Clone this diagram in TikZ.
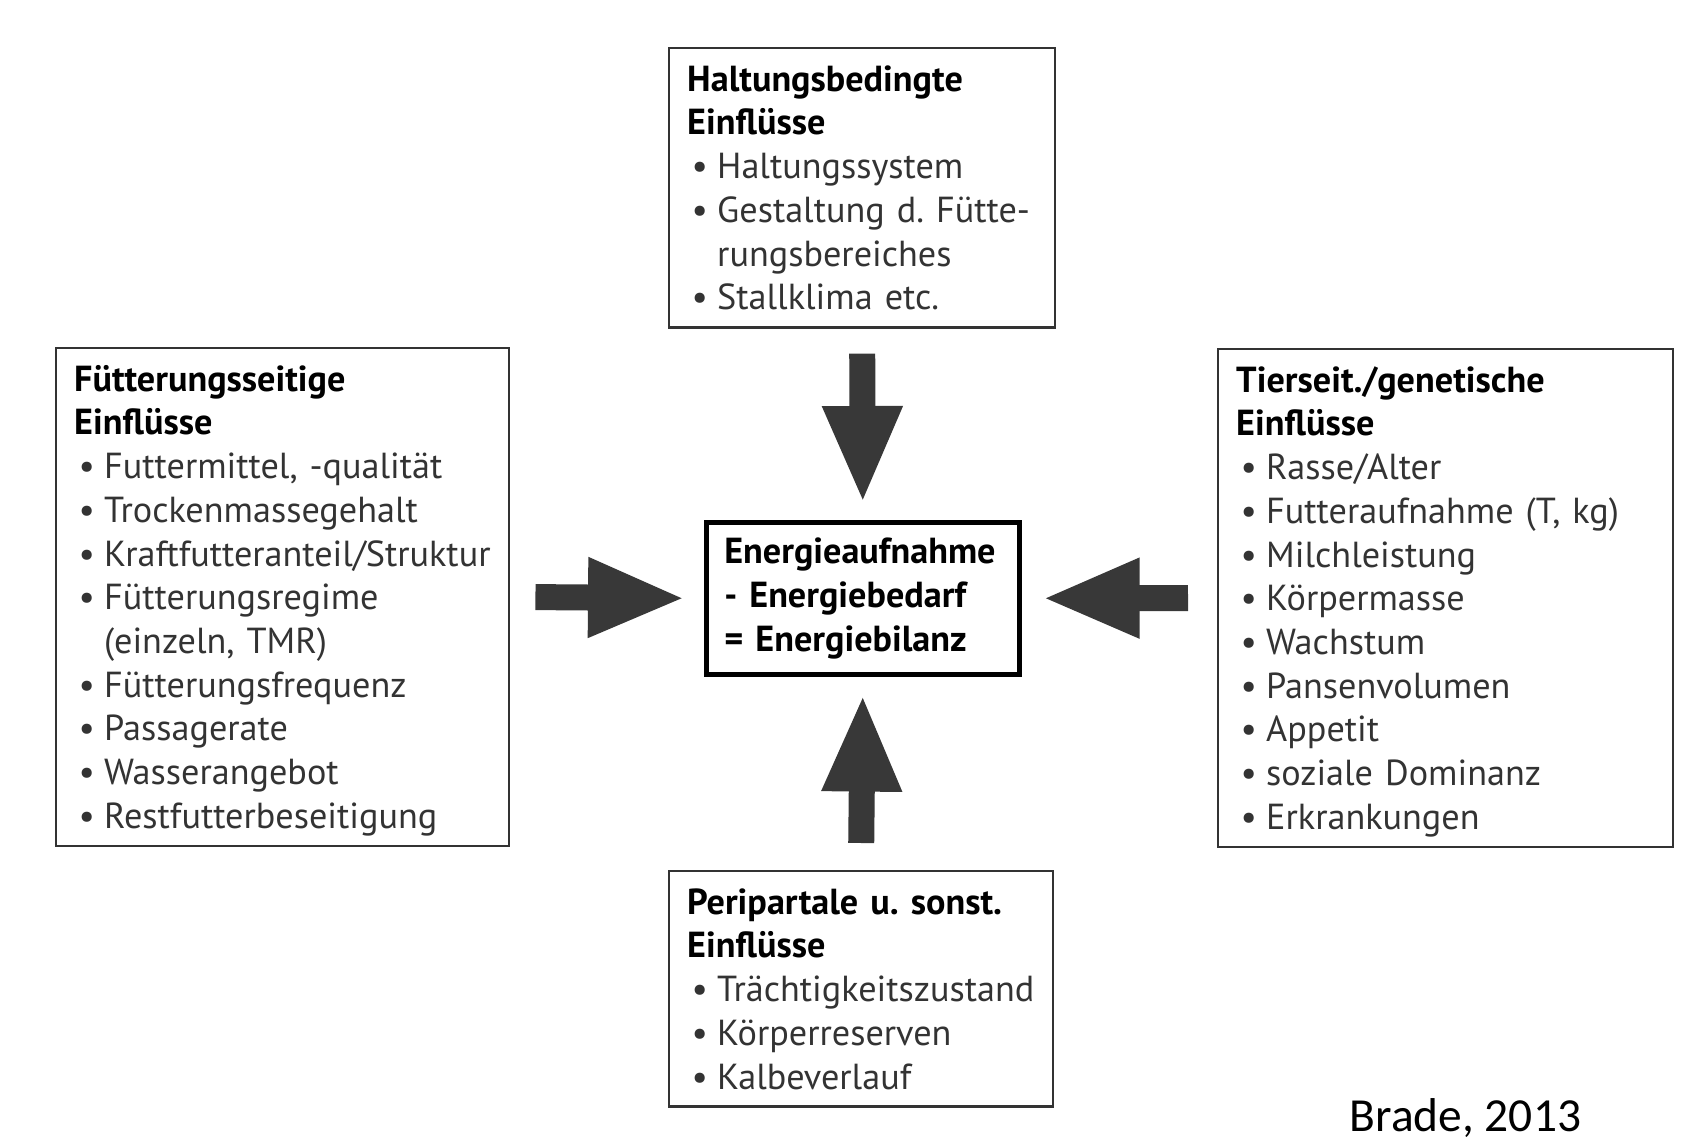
\documentclass[tikz,border=0pt]{standalone}
\usepackage{fontspec}
\setmainfont{PT Sans}
\newfontfamily\calibrifont{Carlito}
\usetikzlibrary{arrows.meta}
\definecolor{inkgray}{HTML}{333333}
\definecolor{arrowgray}{HTML}{383838}
\newcommand{\infl}[1]{\par\noindent\hangindent=3mm\hangafter=1\hspace*{0.45mm}\makebox[2.55mm][l]{\textbullet}#1}
\newcommand{\openstrut}{\rule{0pt}{4.3mm}}
\newcommand{\closestrut}{\rule[-1.75mm]{0pt}{1.75mm}}
\frenchspacing
\begin{document}
\begin{tikzpicture}[x=0.1mm,y=-0.1mm]
\tikzset{
  infobox/.style={draw=inkgray, line width=0.7pt, anchor=north west, align=left,
    inner xsep=1.8mm, inner ysep=0pt, text=inkgray,
    font=\frenchspacing\fontsize{10.3}{12.44}\selectfont},
  balancebox/.style={infobox, line width=1.3pt, draw=black, text=black, minimum height=15.2mm},
  fatarrow/.style={line width=2.6mm, draw=arrowgray, -{Triangle[length=9.8mm,width=7.3mm]}}
}
\useasboundingbox (0,0) rectangle (1706,1139);
% influence boxes
\node[infobox, text width=35mm] (hold) at (668,47)
  {\openstrut\textcolor{black}{\textbf{Haltungsbedingte\newline Einflüsse}}
   \infl{Haltungssystem}
   \infl{Gestaltung d. Fütte-\newline rungsbereiches}
   \infl{Stallklima etc.\closestrut}};
\node[infobox, text width=41.7mm] (feed) at (55,347)
  {\openstrut\textcolor{black}{\textbf{Fütterungsseitige\newline Einflüsse}}
   \infl{Futtermittel, -qualität}
   \infl{Trockenmassegehalt}
   \infl{Kraftfutteranteil/Struktur}
   \infl{Fütterungsregime\newline (einzeln, TMR)}
   \infl{Fütterungsfrequenz}
   \infl{Passagerate}
   \infl{Wasserangebot}
   \infl{Restfutterbeseitigung\closestrut}};
\node[infobox, text width=41.9mm] (animal) at (1217,348)
  {\openstrut\textcolor{black}{\textbf{Tierseit./genetische\newline Einflüsse}}
   \infl{Rasse/Alter}
   \infl{Futteraufnahme (T, kg)}
   \infl{Milchleistung}
   \infl{Körpermasse}
   \infl{Wachstum}
   \infl{Pansenvolumen}
   \infl{Appetit}
   \infl{soziale Dominanz}
   \infl{Erkrankungen\closestrut}};
\node[infobox, text width=34.8mm] (peri) at (668,870)
  {\openstrut\textcolor{black}{\textbf{Peripartale u. sonst.\newline Einflüsse}}
   \infl{Trächtigkeitszustand}
   \infl{Körperreserven}
   \infl{Kalbeverlauf\closestrut}};
% balance in the middle
\node[balancebox, text width=27.7mm] (energy) at (704,520)
  {\textbf{Energieaufnahme\newline - Energiebedarf\newline = Energiebilanz}};
% block arrows
\draw[fatarrow] ([yshift=-2.5mm]hold.south) -- ([yshift=1.6mm]energy.north);
\draw[fatarrow] ([yshift=2.7mm]peri.north) -- ([yshift=-1.7mm]energy.south);
\draw[fatarrow] ([xshift=2.5mm]feed.east) -- ([xshift=-1.8mm]energy.west);
\draw[fatarrow] ([xshift=-2.9mm]animal.west) -- ([xshift=2mm]energy.east);
\node[anchor=base west, inner sep=0pt, font=\calibrifont\fontsize{13.5}{16}\selectfont] (source) at (1349,1131) {Brade, 2013};
\end{tikzpicture}
\end{document}
